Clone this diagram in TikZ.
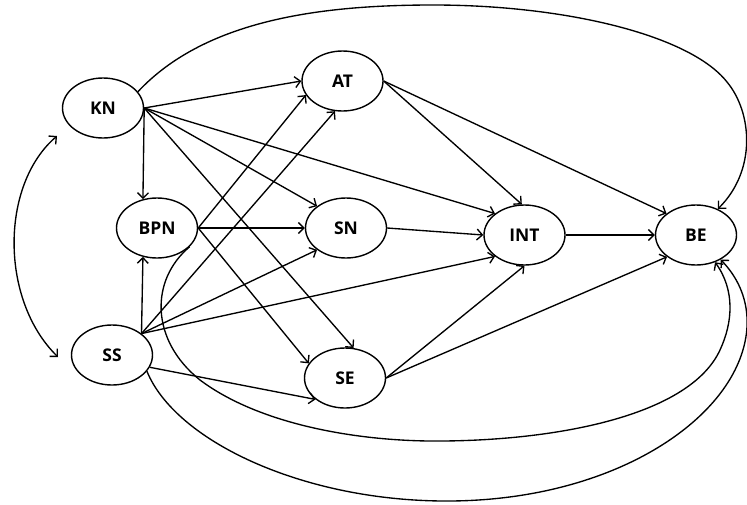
\documentclass[tikz,border=0pt]{standalone}
\usepackage{fontspec}
\setmainfont{Open Sans}
\usetikzlibrary{shapes.geometric,arrows.meta}
\begin{document}
\begin{tikzpicture}[x=1pt,y=-1pt,
  var/.style={ellipse,draw,line width=1.4pt,minimum width=81pt,minimum height=60pt,
    inner sep=0pt,font=\bfseries\fontsize{17.5}{19}\selectfont},
  link/.style={line width=1.35pt,-{Straight Barb[length=5.5pt,width=11pt]}},
  bothlink/.style={line width=1.35pt,{Straight Barb[length=5.5pt,width=11pt]}-{Straight Barb[length=5.5pt,width=11pt]}},
]
\useasboundingbox (0,0) rectangle (747,504);

% constructs
\node[var] (kn)  at (103,108) {KN};
\node[var] (bpn) at (157,228) {BPN};
\node[var] (ss)  at (112,355) {SS};
\node[var] (at)  at (342.5,81) {AT};
\node[var] (sn)  at (346,228) {SN};
\node[var] (se)  at (345,378) {SE};
\node[var] (int) at (524.5,235) {INT};
\node[var] (be)  at (696,235) {BE};

% paths out of KN
\draw[link] (kn.east) -- (at.west);
\draw[link] (kn.east) -- (bpn.116);
\draw[link] (kn.east) -- (sn.143);
\draw[link] (kn.east) -- (se.74);
\draw[link] (kn.east) -- (int.144);

% paths out of BPN
\draw[link] (bpn.east) -- (at.201);
\draw[link] (bpn.east) -- (sn.west);
\draw[link] (bpn.east) -- (se.158);

% paths out of SS
\draw[link] (ss.36) -- (bpn.-116);
\draw[link] (ss.36) -- (at.256);
\draw[link] (ss.36) -- (sn.217);
\draw[link] (ss.36) -- (int.216);
\draw[link] (ss.-18) -- (se.216);

% mediators
\draw[link] (at.east) -- (int.95);
\draw[link] (at.east) -- (be.144);
\draw[link] (sn.east) -- (int.west);
\draw[link] (se.east) -- (int.south);
\draw[link] (se.east) -- (be.217);
\draw[link] (int.east) -- (be.west);

% correlation between KN and SS
\coordinate (kntip) at (57,136);
\coordinate (sstip) at (58,357);
\draw[bothlink] (kntip) .. controls (0,185) and (0,300) .. (sstip);

% direct path KN -> BE over the top
\draw[link] (kn.25) .. controls (205,20) and (320,5) .. (433,5)
  .. controls (565,5) and (690,35) .. (727,82)
  .. controls (752,112) and (757,170) .. (be.50);

% direct path BPN -> BE underneath
\draw[link] (bpn.-30) .. controls (150,280) and (150,340) .. (200,380)
  .. controls (260,425) and (360,442) .. (443,441)
  .. controls (560,440) and (690,415) .. (720,350)
  .. controls (733,322) and (735,290) .. (be.-55);

% direct path SS -> BE underneath
\draw[link] (ss.-25) .. controls (175,440) and (300,500) .. (443,501)
  .. controls (590,502) and (700,440) .. (735,370)
  .. controls (755,330) and (750,290) .. (be.-45);
\end{tikzpicture}
\end{document}
